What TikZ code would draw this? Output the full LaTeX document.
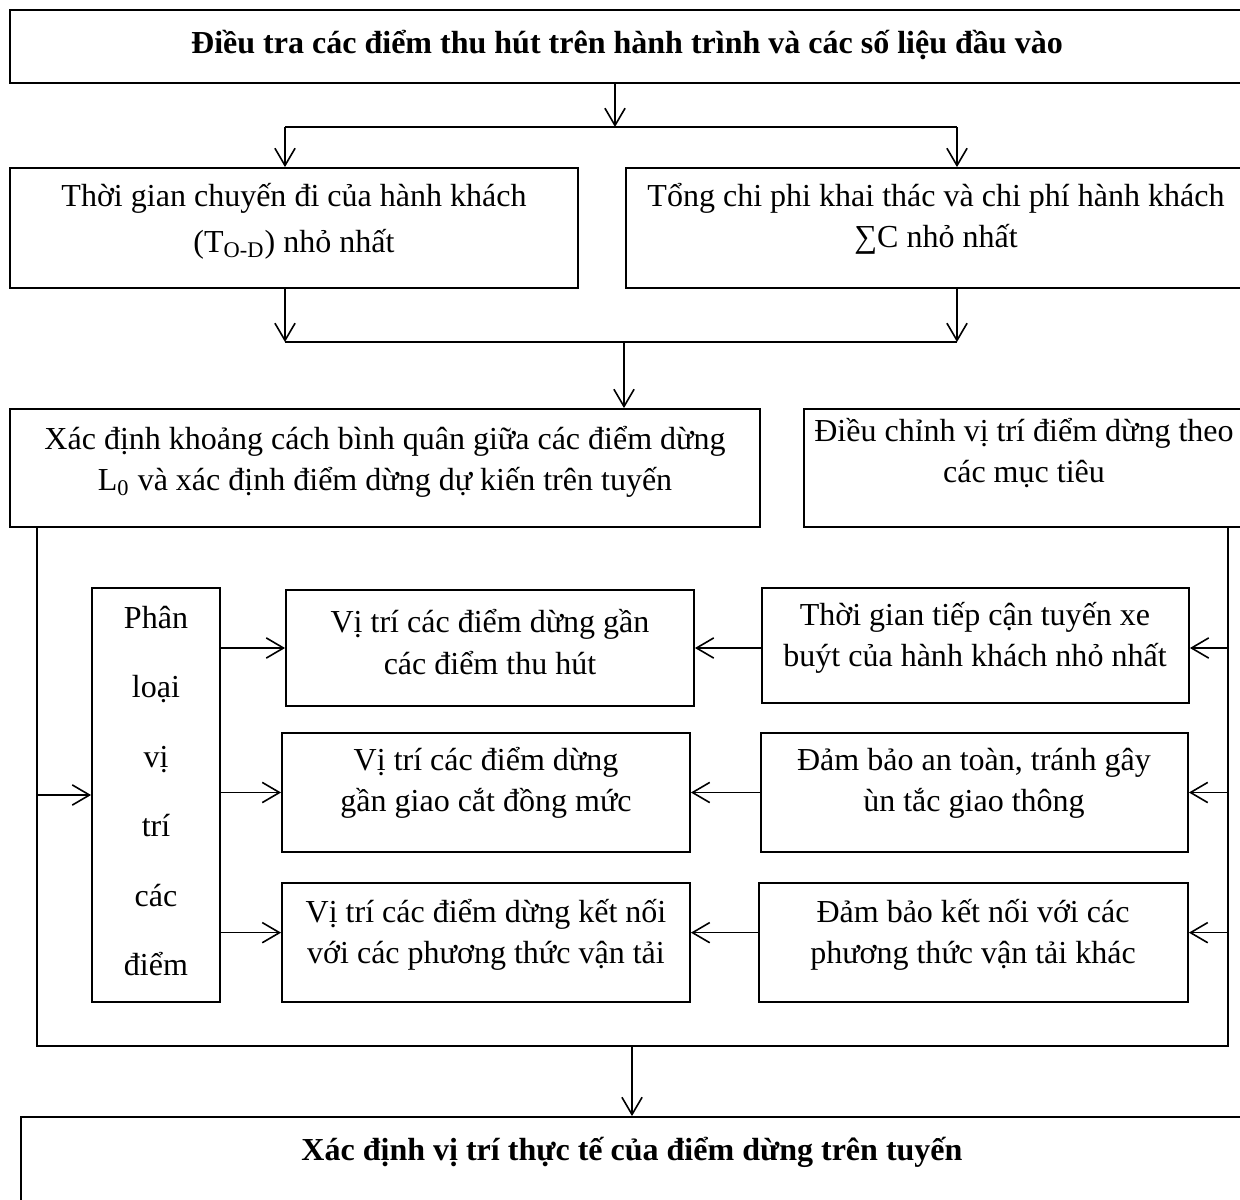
\documentclass[tikz,border=0pt]{standalone}
\usepackage{fontspec}
\setmainfont{Liberation Serif}
\usetikzlibrary{arrows.meta, positioning, fit, calc}

\tikzset{box/.style={draw, line width=0.75pt, inner sep=0pt},
	txt/.style={align=center, inner sep=0pt, font=\fontsize{13}{16.8}\selectfont},
	txtb/.style={txt, font=\bfseries\fontsize{13}{16.8}\selectfont},
	link/.style={line width=0.65pt},
	arr/.style={link, -{Straight Barb[length=7pt, width=8.2pt]}}}

\begin{document}
\begin{tikzpicture}[x=0.406pt, y=-0.406pt]
	\useasboundingbox (0,0) rectangle (1240,1200);
	% boxes
	\node[box, fit={(10,10) (1245,83)}] (dieutra) {};
	\node[box, fit={(10,168) (578,288)}] (thoigian) {};
	\node[box, fit={(626,168) (1246,288)}] (chiphi) {};
	\node[box, fit={(10,409) (760,527)}] (khoangcach) {};
	\node[box, fit={(804,409) (1246,527)}] (dieuchinh) {};
	\node[box, fit={(92,588) (220,1002)}] (phanloai) {};
	\node[box, fit={(286,590) (694,706)}] (vitri1) {};
	\node[box, fit={(282,733) (690,852)}] (vitri2) {};
	\node[box, fit={(282,883) (690,1002)}] (vitri3) {};
	\node[box, fit={(762,588) (1189,703)}] (tiepcan) {};
	\node[box, fit={(761,733) (1188,852)}] (antoan) {};
	\node[box, fit={(759,883) (1188,1002)}] (ketnoi) {};
	\node[box, fit={(21,1117) (1243,1215)}] (thucte) {};
	% texts
	\node[txtb] (dieutra-t) at (627,45) {Điều tra các điểm thu hút trên hành trình và các số liệu đầu vào};
	\node[txt] (thoigian-t) at (294,221) {Thời gian chuyến đi của hành khách\\[2pt](T\textsubscript{O-D}) nhỏ nhất};
	\node[txt] (chiphi-t) at (936,219) {Tổng chi phi khai thác và chi phí hành khách\\∑C nhỏ nhất};
	\node[txt] (khoangcach-t) at (385,462) {Xác định khoảng cách bình quân giữa các điểm dừng\\L\textsubscript{0} và xác định điểm dừng dự kiến trên tuyến};
	\node[txt] (dieuchinh-t) at (1024,453) {Điều chỉnh vị trí điểm dừng theo\\các mục tiêu};
	\node[txt, font=\fontsize{13}{28.2}\selectfont] (phanloai-t) at (156,791) {Phân\\loại\\vị\\trí\\các\\điểm};
	\node[txt] (vitri1-t) at (490,642) {Vị trí các điểm dừng gần\\các điểm thu hút};
	\node[txt] (vitri2-t) at (486,783) {Vị trí các điểm dừng\\gần giao cắt đồng mức};
	\node[txt] (vitri3-t) at (486,935) {Vị trí các điểm dừng kết nối\\với các phương thức vận tải};
	\node[txt] (tiepcan-t) at (975,638) {Thời gian tiếp cận tuyến xe\\buýt của hành khách nhỏ nhất};
	\node[txt] (antoan-t) at (974,783) {Đảm bảo an toàn, tránh gây\\ùn tắc giao thông};
	\node[txt] (ketnoi-t) at (973,935) {Đảm bảo kết nối với các\\phương thức vận tải khác};
	\node[txtb] (thucte-t) at (632,1152) {Xác định vị trí thực tế của điểm dừng trên tuyến};
	% bars
	\coordinate (b1l) at (285,127);
	\coordinate (b1m) at (615,127);
	\coordinate (b1r) at (957,127);
	\coordinate (b2l) at (285,342);
	\coordinate (b2m) at (624,342);
	\coordinate (b2r) at (957,342);
	\coordinate (lb) at (37,1046);
	\coordinate (rb) at (1228,1046);
	% connectors
	\draw[arr] (b1m |- dieutra.south) -- (b1m);
	\draw[link] (b1l) -- (b1r);
	\draw[arr] (b1l) -- (b1l |- thoigian.north);
	\draw[arr] (b1r) -- (b1r |- chiphi.north);
	\draw[arr] (b2l |- thoigian.south) -- (b2l);
	\draw[arr] (b2r |- chiphi.south) -- (b2r);
	\draw[link] (b2l) -- (b2r);
	\draw[arr] (b2m) -- (b2m |- khoangcach.north);
	\draw[link] (lb |- khoangcach.south) -- (lb) -- (rb) -- (rb |- dieuchinh.south);
	\draw[arr] (lb |- phanloai.west) -- (phanloai.west);
	\draw[arr] (phanloai.east |- vitri1.west) -- (vitri1.west);
	\draw[arr] (phanloai.east |- vitri2.west) -- (vitri2.west);
	\draw[arr] ([yshift=4pt]phanloai.east |- vitri3.west) -- ([yshift=4pt]vitri3.west);
	\draw[arr] (tiepcan.west |- vitri1.east) -- (vitri1.east);
	\draw[arr] (antoan.west |- vitri2.east) -- (vitri2.east);
	\draw[arr] ([yshift=4pt]ketnoi.west) -- ([yshift=4pt]vitri3.east |- ketnoi.west);
	\draw[arr] (rb |- vitri1.east) -- (tiepcan.east |- vitri1.east);
	\draw[arr] (rb |- antoan.east) -- (antoan.east);
	\draw[arr] ([yshift=4pt]rb |- ketnoi.east) -- ([yshift=4pt]ketnoi.east);
	\draw[arr] (lb -| thucte.north) -- (thucte.north);
\end{tikzpicture}
\end{document}
